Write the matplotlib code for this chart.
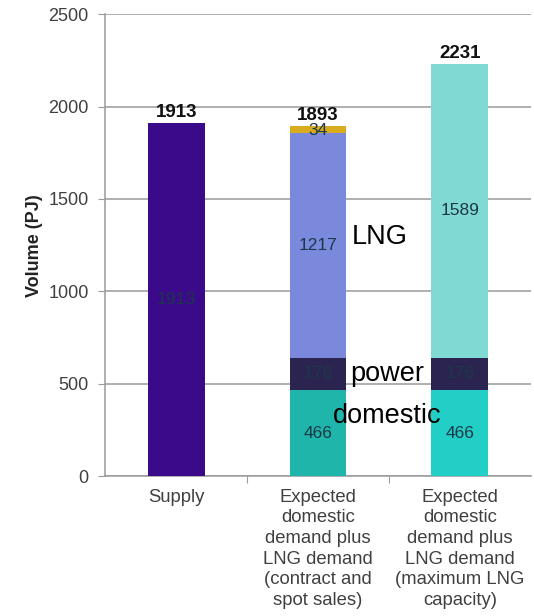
import matplotlib
matplotlib.use("Agg")
import matplotlib.pyplot as plt
import numpy as np

plt.rcParams['font.family'] = ['Liberation Sans', 'DejaVu Sans']

categories = ["Supply",
              "Expected\ndomestic\ndemand plus\nLNG demand\n(contract and\nspot sales)",
              "Expected\ndomestic\ndemand plus\nLNG demand\n(maximum LNG\ncapacity)"]

supply = [1913, 0, 0]
domestic = [0, 466, 466]
power = [0, 176, 176]
lng = [0, 1217, 1589]
spot = [0, 34, 0]
totals = [1913, 1893, 2231]

fig = plt.figure(figsize=(5.34, 6.16), dpi=100)
ax = fig.add_axes([0.197, 0.227, 0.797, 0.750])

x = np.arange(len(categories))
w = 0.4

ax.bar(x[0], supply[0], w, color="#3a0a8a", zorder=3)
dom_colors = ["#1fb5aa", "#22cfc6"]
lng_colors = ["#7b89dd", "#80d9d2"]
for j, i in enumerate([1, 2]):
    ax.bar(x[i], domestic[i], w, color=dom_colors[j], zorder=3)
    ax.bar(x[i], power[i], w, bottom=domestic[i], color="#2c2450", zorder=3)
    ax.bar(x[i], lng[i], w, bottom=domestic[i] + power[i], color=lng_colors[j], zorder=3)
    if spot[i]:
        ax.bar(x[i], spot[i], w, bottom=domestic[i] + power[i] + lng[i],
               color="#d8ac1e", zorder=3)

inner = dict(ha="center", va="center", fontsize=12.5, color="#1c3848", zorder=4)
ax.text(x[0], supply[0] / 2, str(supply[0]), **inner)
for i in [1, 2]:
    ax.text(x[i], domestic[i] / 2, str(domestic[i]), **inner)
    ax.text(x[i], domestic[i] + power[i] / 2, str(power[i]), **inner)
    ax.text(x[i], domestic[i] + power[i] + lng[i] / 2, str(lng[i]), **inner)
    if spot[i]:
        ax.text(x[i], domestic[i] + power[i] + lng[i] + spot[i] / 2 - 8,
                str(spot[i]), **inner)

for i, t in enumerate(totals):
    ax.text(x[i], t + 10, str(t), ha="center", va="bottom", fontsize=13.5,
            fontweight="bold", color="#111111", zorder=4)

big = dict(fontsize=19.5, color="black", zorder=5)
ax.text(1.24, 642 + 1217 * 0.535, "LNG", ha="left", va="center", **big)
ax.text(1.225, 466 + 88, "power", ha="left", va="center", **big)
ax.text(1.105, 325, "domestic", ha="left", va="center", **big)

ax.set_xlim(-0.5, 2.5)
ax.set_ylim(0, 2500)
ax.set_yticks(np.arange(0, 2501, 500))
ax.yaxis.grid(True, color="#9a9a9a", linewidth=1.1, zorder=0)
ax.set_axisbelow(True)

ax.set_xticks([0.5, 1.5])
ax.set_xticklabels([])
ax.set_xticks(x, minor=True)
ax.set_xticklabels(categories, minor=True, fontsize=13.3, color="#404040",
                   linespacing=1.28)
ax.tick_params(axis="x", which="minor", length=0, pad=9)
ax.tick_params(axis="x", which="major", length=5, color="#9a9a9a", direction="out")
ax.tick_params(axis="y", length=5, color="#9a9a9a", labelsize=13,
               labelcolor="#404040", pad=7)

for s in ["top", "right"]:
    ax.spines[s].set_visible(False)
for s in ["left", "bottom"]:
    ax.spines[s].set_color("#9a9a9a")
    ax.spines[s].set_linewidth(1.1)

ax.set_ylabel("Volume (PJ)", fontsize=13, fontweight="bold", color="#222222",
              labelpad=4)

fig.savefig("out.png", dpi=100)
